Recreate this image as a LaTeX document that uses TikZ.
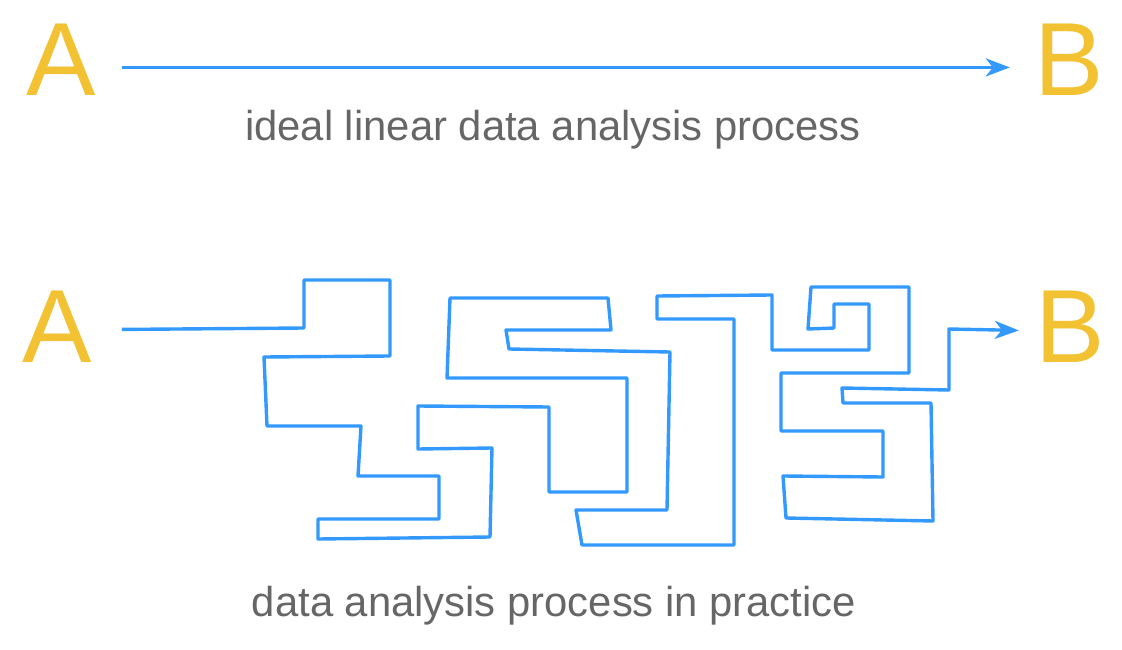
\documentclass[tikz,border=0pt]{standalone}
\usepackage{fontspec}
\setmainfont{Liberation Sans}
\usetikzlibrary{arrows.meta}
\definecolor{letteryellow}{RGB}{242,194,51}
\definecolor{flowblue}{RGB}{51,153,255}
\definecolor{captiongray}{RGB}{102,102,102}
\tikzset{
	letter/.style={anchor=base, inner sep=0pt, outer sep=0pt, text=letteryellow, font=\fontsize{104}{110}\selectfont},
	caption/.style={anchor=base, inner sep=0pt, text=captiongray, font=\fontsize{41.8}{48}\selectfont},
	flow/.style={draw=flowblue, line width=3.4pt, line join=round, -{Stealth[length=24pt,width=18pt,inset=7pt]}}
}
\begin{document}
\begin{tikzpicture}[x=1pt,y=-1pt]
		\useasboundingbox (0,0) rectangle (1122,650);
		% ideal
		\node[letter](A1) at (61.5,96) {A};
		\node[letter](B1) at (1069,96) {B};
		\node[caption](ideal) at (553,141) {ideal linear data analysis process};
		\draw [flow] ([xshift=26pt,yshift=-7.2pt]A1.east) -- ([xshift=-24.5pt,yshift=-7.2pt]B1.west);
		% in practice
		\node[letter](A2) at (57.5,362) {A};
		\node[letter](B2) at (1070,362) {B};
		\node[caption](practice) at (554,616) {data analysis process in practice};
		\draw [flow] ([xshift=29.6pt,yshift=-3.2pt]A2.east) -- (304,328) -- (304,280) -- (390,280)
		-- (390,356) -- (264,357) -- (267,426) -- (361,426) -- (358,476) -- (439,476)
		-- (439,519) -- (318,519) -- (318,539) -- (490,537) -- (492,448) -- (418,449)
		-- (418,406) -- (549,407) -- (549,492) -- (627,492) -- (627,378) -- (447,378)
		-- (450,298) -- (608,298) -- (611,330) -- (506,330) -- (509,349) -- (670,352)
		-- (667,510) -- (576,510) -- (582,545) -- (734,545) -- (734,319) -- (657,319)
		-- (657,296) -- (772,295) -- (772,350) -- (869,350) -- (869,304) -- (834,304)
		-- (834,328) -- (808,329) -- (811,287) -- (909,287) -- (909,373) -- (781,373)
		-- (781,431) -- (883,431) -- (883,477) -- (783,476) -- (786,518) -- (933,521)
		-- (931,403) -- (843,403) -- (842,388) -- (949,390) -- (949,329)
		-- ([xshift=-16.5pt,yshift=-4.2pt]B2.west);
	\end{tikzpicture}
\end{document}
